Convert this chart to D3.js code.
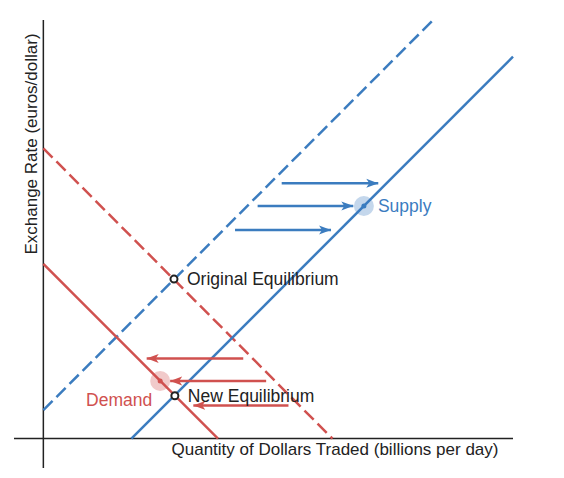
<!DOCTYPE html>
<html>
<head>
<meta charset="utf-8">
<script src="https://cdn.jsdelivr.net/npm/d3@7"></script>
<style>
  body { margin: 0; background: #fff; }
  svg { display: block; font-family: "Liberation Sans", Arial, sans-serif; }
</style>
</head>
<body>
<svg id="chart"></svg>
<script>
// Curves (two end points each, in chart units)
const supplyX = [3, 16];
const supplyY = [0, 13];
const supplyOldX = [0, 13.3];
const supplyOldY = [0.97, 14.27];
const demandX = [0, 5.95];
const demandY = [5.95, 0];
const demandOldX = [0, 9.85];
const demandOldY = [9.88, 0];

// Shift arrows
const supplyArrowY = [8.69, 7.92, 7.10];
const supplyArrowFrom = [8.12, 7.30, 6.53];
const supplyArrowTo = [11.41, 10.56, 9.80];
const demandArrowY = [2.73, 1.96, 1.13];
const demandArrowFrom = [6.81, 7.59, 8.35];
const demandArrowTo = [3.52, 4.32, 5.11];

// Points and labels
const equilibria = [
  {name: "Original Equilibrium", x: 4.45, y: 5.43},
  {name: "New Equilibrium", x: 4.48, y: 1.46}
];
const supplyLabel = {name: "Supply", x: 10.92, y: 7.92};
const demandLabel = {name: "Demand", x: 3.98, y: 1.96};

const xTitle = "Quantity of Dollars Traded (billions per day)";
const yTitle = "Exchange Rate (euros/dollar)";

const width = 564, height = 478;
const blue = "#3b7cbf";
const red = "#d0514f";
const ink = "#222";

const x = d3.scaleLinear([-1, 16], [14, 513]);
const y = d3.scaleLinear([-1, 14.25], [468, 20]);

const svg = d3.select("#chart")
  .attr("width", width)
  .attr("height", height)
  .attr("viewBox", [0, 0, width, height]);

// arrow heads
const defs = svg.append("defs");
[["head-blue", blue], ["head-red", red]].forEach(([id, c]) => {
  defs.append("marker")
    .attr("id", id)
    .attr("viewBox", "0 -5 12 10")
    .attr("refX", 12)
    .attr("refY", 0)
    .attr("markerWidth", 12)
    .attr("markerHeight", 10)
    .attr("markerUnits", "userSpaceOnUse")
    .attr("orient", "auto")
    .append("path")
    .attr("d", "M0,-4.5L12,0L0,4.5L3,0Z")
    .attr("fill", c);
});

// axes
svg.append("line")
  .attr("x1", x(-1)).attr("x2", x(16))
  .attr("y1", y(0)).attr("y2", y(0))
  .attr("stroke", ink).attr("stroke-width", 1.5);
svg.append("line")
  .attr("x1", x(0)).attr("x2", x(0))
  .attr("y1", y(-1)).attr("y2", y(14.25))
  .attr("stroke", ink).attr("stroke-width", 1.5);

// curves
const curves = [
  {xs: supplyOldX, ys: supplyOldY, color: blue, dash: "13,5.5"},
  {xs: demandOldX, ys: demandOldY, color: red, dash: "13,5.5"},
  {xs: demandX, ys: demandY, color: red, dash: null},
  {xs: supplyX, ys: supplyY, color: blue, dash: null}
];
const line = d3.line().x(d => x(d[0])).y(d => y(d[1]));
svg.append("g")
  .selectAll("path")
  .data(curves)
  .join("path")
  .attr("d", d => line(d3.zip(d.xs, d.ys)))
  .attr("fill", "none")
  .attr("stroke", d => d.color)
  .attr("stroke-width", 2.5)
  .attr("stroke-dasharray", d => d.dash);

// shift arrows
function drawArrows(ys, from, to, color, marker) {
  svg.append("g")
    .selectAll("line")
    .data(ys)
    .join("line")
    .attr("x1", (d, i) => x(from[i]))
    .attr("x2", (d, i) => x(to[i]))
    .attr("y1", d => y(d))
    .attr("y2", d => y(d))
    .attr("stroke", color)
    .attr("stroke-width", 2.5)
    .attr("marker-end", `url(#${marker})`);
}
drawArrows(supplyArrowY, supplyArrowFrom, supplyArrowTo, blue, "head-blue");
drawArrows(demandArrowY, demandArrowFrom, demandArrowTo, red, "head-red");

// curve labels
[[supplyLabel, blue, 14, 0, "start"], [demandLabel, red, -8, 19, "end"]].forEach(([d, c, dx, dy, anchor]) => {
  svg.append("circle")
    .attr("cx", x(d.x)).attr("cy", y(d.y)).attr("r", 10)
    .attr("fill", c).attr("fill-opacity", 0.3);
  svg.append("circle")
    .attr("cx", x(d.x)).attr("cy", y(d.y)).attr("r", 2.5)
    .attr("fill", c);
  svg.append("text")
    .attr("x", x(d.x) + dx).attr("y", y(d.y) + dy)
    .attr("dy", "0.35em")
    .attr("text-anchor", anchor)
    .attr("fill", c)
    .style("font-size", "17.5px")
    .text(d.name);
});

// equilibrium points
const eq = svg.append("g")
  .selectAll("g")
  .data(equilibria)
  .join("g")
  .attr("transform", d => `translate(${x(d.x)},${y(d.y)})`);
eq.append("circle")
  .attr("r", 3.5)
  .attr("fill", "#fff")
  .attr("stroke", ink)
  .attr("stroke-width", 2);
eq.append("text")
  .attr("x", 13)
  .attr("dy", "0.35em")
  .attr("fill", ink)
  .style("font-size", "17.5px")
  .text(d => d.name);

// axis titles
svg.append("text")
  .attr("x", 335).attr("y", 449)
  .attr("dy", "0.35em")
  .attr("text-anchor", "middle")
  .attr("fill", ink)
  .style("font-size", "17px")
  .text(xTitle);
svg.append("text")
  .attr("transform", "translate(31,144) rotate(-90)")
  .attr("dy", "0.35em")
  .attr("text-anchor", "middle")
  .attr("fill", ink)
  .style("font-size", "17px")
  .text(yTitle);
</script>
</body>
</html>
